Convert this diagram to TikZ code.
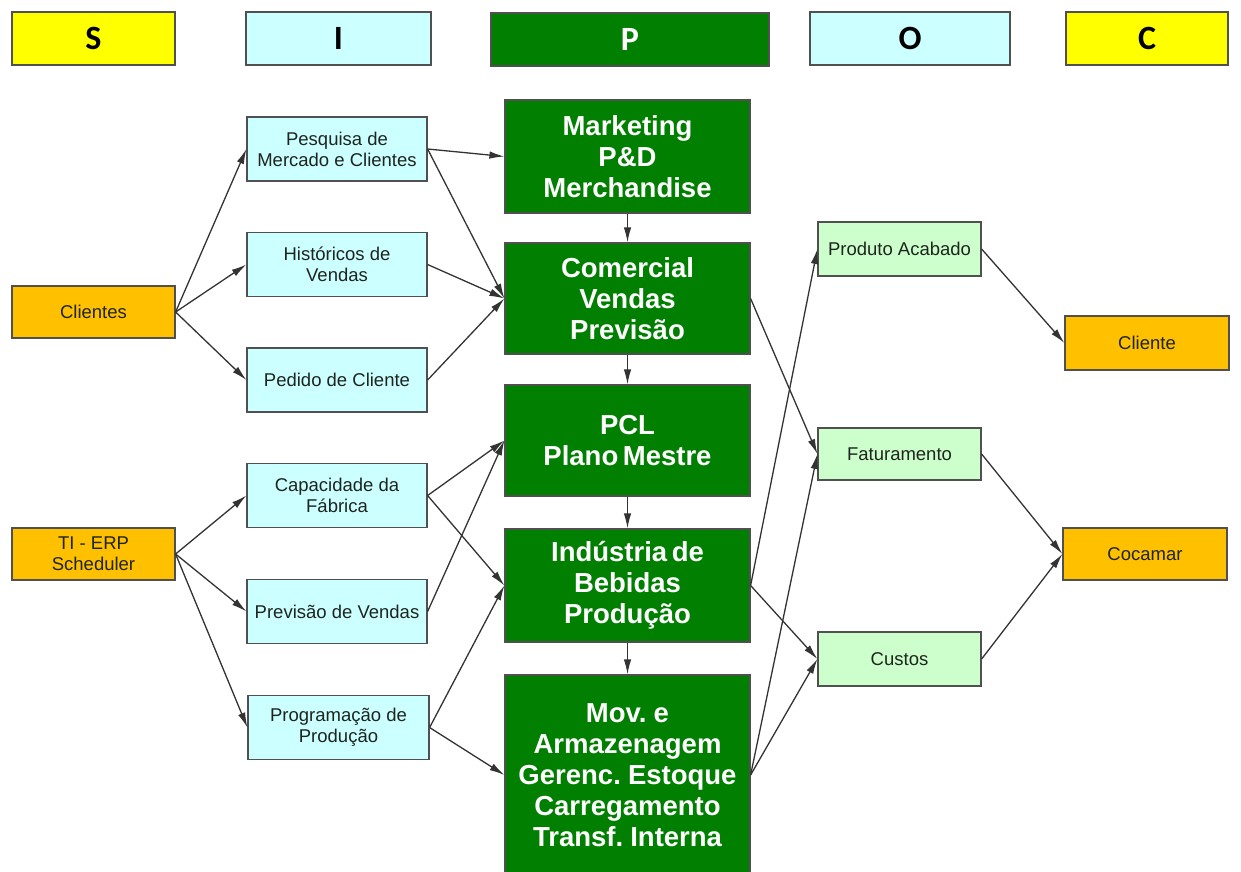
\documentclass[tikz,border=0pt]{standalone}
\usepackage{fontspec}
\setmainfont{Liberation Sans}
\newfontfamily\hdrfont{Carlito}
\newfontfamily\gfont[WordSpace=0.6]{Liberation Sans}
\usetikzlibrary{arrows.meta}
\definecolor{hyellow}{HTML}{FFFF00}
\definecolor{hcyan}{HTML}{CCFFFF}
\definecolor{pgreen}{HTML}{007F00}
\definecolor{sorange}{HTML}{FFC000}
\definecolor{olgreen}{HTML}{CCFFCC}
\definecolor{edgegray}{HTML}{505050}
\definecolor{linegray}{HTML}{333333}
\definecolor{txtdark}{HTML}{1E241E}
\begin{document}
\begin{tikzpicture}[x=1pt,y=-1pt,
  box/.style={draw=edgegray, line width=1.2pt, inner sep=0pt, align=center, text=txtdark, font=\fontsize{18.5}{21}\selectfont},
  hdr/.style={draw=edgegray, line width=1.2pt, inner sep=0pt, minimum height=53pt, font=\hdrfont\bfseries\fontsize{34}{34}\selectfont},
  sbox/.style={box, fill=sorange, minimum width=163pt, minimum height=52pt},
  ibox/.style={box, fill=hcyan, minimum width=180pt, minimum height=64pt},
  obox/.style={box, fill=olgreen, minimum width=163pt, minimum height=54pt},
  pbox/.style={draw=edgegray, line width=1.2pt, fill=pgreen, text=white, align=center, inner sep=0pt, minimum width=245pt, font=\gfont\bfseries\fontsize{27.5}{31}\selectfont},
  conn/.style={draw=linegray, line width=1.3pt, -{Latex[length=15pt,width=7.5pt]}}
]
\useasboundingbox (0,0) rectangle (1241,871);
% header row
\node[hdr, fill=hyellow, minimum width=163pt] (hS) at (93.5,38.5) {S};
\node[hdr, fill=hcyan, minimum width=185pt] (hI) at (338.5,38.5) {I};
\node[hdr, fill=pgreen, text=white, minimum width=278pt] (hP) at (630,39.5) {P};
\node[hdr, fill=hcyan, minimum width=200pt] (hO) at (910,38.5) {O};
\node[hdr, fill=hyellow, minimum width=162pt] (hC) at (1147,38.5) {C};
% suppliers
\node[sbox] (cli) at (93.5,312) {Clientes};
\node[sbox] (tie) at (93.5,554) {TI - ERP\\Scheduler};
% inputs
\node[ibox] (pesq) at (337,149) {Pesquisa de\\Mercado e Clientes};
\node[ibox] (hist) at (337,264.5) {Históricos de\\Vendas};
\node[ibox] (ped) at (337,380) {Pedido de Cliente};
\node[ibox] (cap) at (337,495.5) {Capacidade da\\Fábrica};
\node[ibox] (prev) at (337,611.5) {Previsão de Vendas};
\node[ibox, minimum width=181pt] (prog) at (338.5,727.5) {Programação de\\Produção};
% process
\node[pbox, minimum height=113pt] (mkt) at (627.5,156.5) {Marketing\\P\&D\\Merchandise};
\node[pbox, minimum height=111pt] (com) at (627.5,298.5) {Comercial\\Vendas\\Previsão};
\node[pbox, minimum height=111pt] (pcl) at (627.5,440.5) {PCL\\Plano Mestre};
\node[pbox, minimum height=113pt] (ind) at (627.5,585.5) {Indústria de\\Bebidas\\Produção};
\node[pbox, minimum height=200pt] (mov) at (627.5,775) {Mov. e\\Armazenagem\\Gerenc. Estoque\\Carregamento\\Transf. Interna};
% outputs
\node[obox] (pa) at (899.5,249) {Produto Acabado};
\node[obox, minimum height=52pt] (fat) at (899.5,454) {Faturamento};
\node[obox] (cus) at (899.5,659) {Custos};
% customers
\node[sbox, minimum width=164pt, minimum height=54pt] (clt) at (1147,343) {Cliente};
\node[sbox, minimum width=164pt] (coc) at (1145,554) {Cocamar};
% connectors S -> I
\draw[conn] (cli.east) -- (pesq.west);
\draw[conn] (cli.east) -- (hist.west);
\draw[conn] (cli.east) -- (ped.west);
\draw[conn] (tie.east) -- (cap.west);
\draw[conn] (tie.east) -- (prev.west);
\draw[conn] (tie.east) -- (prog.west);
% I -> P
\draw[conn] (pesq.east) -- (mkt.west);
\draw[conn] (pesq.east) -- (com.west);
\draw[conn] (hist.east) -- (com.west);
\draw[conn] (ped.east) -- (com.west);
\draw[conn] (cap.east) -- (pcl.west);
\draw[conn] (cap.east) -- (ind.west);
\draw[conn] (prev.east) -- (pcl.west);
\draw[conn] (prog.east) -- (ind.west);
\draw[conn] (prog.east) -- (mov.west);
% P chain
\draw[conn] (mkt.south) -- (com.north);
\draw[conn] (com.south) -- (pcl.north);
\draw[conn] (pcl.south) -- (ind.north);
\draw[conn] (ind.south) -- (mov.north);
% P -> O
\draw[conn] (com.east) -- (fat.west);
\draw[conn] (ind.east) -- (pa.west);
\draw[conn] (ind.east) -- (cus.west);
\draw[conn] (mov.east) -- (fat.west);
\draw[conn] (mov.east) -- (cus.west);
% O -> C
\draw[conn] (pa.east) -- (clt.west);
\draw[conn] (fat.east) -- (coc.west);
\draw[conn] (cus.east) -- (coc.west);
\end{tikzpicture}
\end{document}
